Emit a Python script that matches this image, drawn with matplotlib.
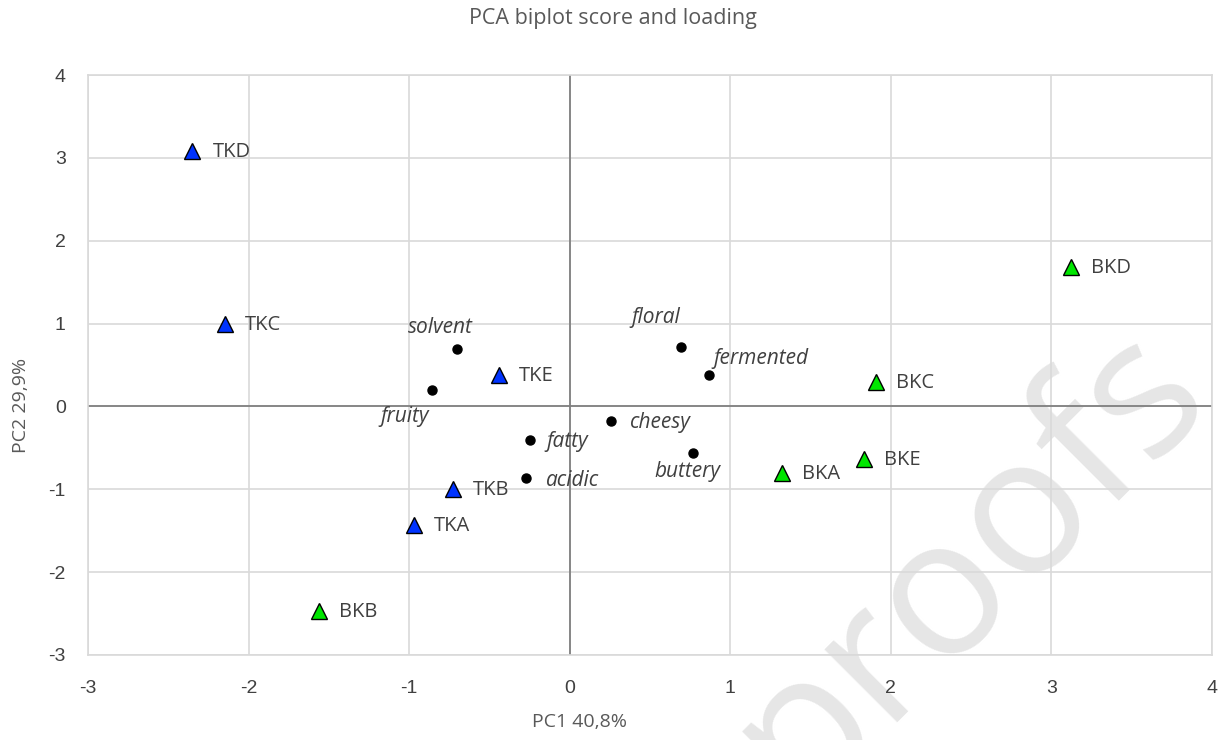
import matplotlib.pyplot as plt

plt.rcParams['font.family'] = 'Liberation Sans'
plt.rcParams['axes.unicode_minus'] = False

# scores
tk_names = ['TKA', 'TKB', 'TKC', 'TKD', 'TKE']
tk_pc1 = [-0.97, -0.73, -2.15, -2.35, -0.44]
tk_pc2 = [-1.43, -1.00, 0.99, 3.08, 0.38]

bk_names = ['BKA', 'BKB', 'BKC', 'BKD', 'BKE']
bk_pc1 = [1.32, -1.56, 1.91, 3.12, 1.83]
bk_pc2 = [-0.80, -2.47, 0.29, 1.68, -0.64]

# loadings
ld_names = ['solvent', 'fruity', 'floral', 'fermented', 'cheesy', 'fatty', 'buttery', 'acidic']
ld_pc1 = [-0.70, -0.86, 0.69, 0.87, 0.26, -0.25, 0.77, -0.27]
ld_pc2 = [0.69, 0.20, 0.72, 0.38, -0.17, -0.41, -0.56, -0.86]

# label offsets (pixels) and alignment for loading labels
ld_off = [(-17, 22, 'center'), (-27, -27, 'center'), (-25, 29, 'center'), (4, 16, 'left'),
          (18, -2, 'left'), (17, -1, 'left'), (-6, -19, 'center'), (20, -3, 'left')]

fig = plt.figure(figsize=(12.26, 7.40), dpi=100)
ax = fig.add_axes([0.0718, 0.1149, 0.9168, 0.7837])
ax.patch.set_alpha(0)

ax.set_xlim(-3, 4)
ax.set_ylim(-3, 4)
ax.set_xticks(range(-3, 5))
ax.set_yticks(range(-3, 5))
ax.grid(True, color='#d9d9d9', linewidth=1.2, zorder=0)
ax.set_axisbelow(True)
for s in ax.spines.values():
    s.set_color('#d9d9d9')
    s.set_linewidth(1.2)
ax.axhline(0, color='#808080', linewidth=1.3, zorder=1)
ax.axvline(0, color='#808080', linewidth=1.3, zorder=1)
ax.tick_params(axis='x', length=0, pad=18, labelsize=14, labelcolor='#404040')
ax.tick_params(axis='y', length=0, pad=16, labelsize=14, labelcolor='#404040')

ax.plot(tk_pc1, tk_pc2, '^', ms=11.5, color='#0033ff', mec='black', mew=1, ls='none', zorder=3)
ax.plot(bk_pc1, bk_pc2, '^', ms=11.5, color='#00e600', mec='black', mew=1, ls='none', zorder=3)
ax.plot(ld_pc1, ld_pc2, 'o', ms=6.5, color='black', ls='none', zorder=3)

for n, x, y in zip(tk_names + bk_names, tk_pc1 + bk_pc1, tk_pc2 + bk_pc2):
    ax.annotate(n, (x, y), xytext=(20, -1), textcoords='offset pixels', va='center', ha='left',
                fontsize=14.5, family='Open Sans', color='#404040')

for n, x, y, (dx, dy, ha) in zip(ld_names, ld_pc1, ld_pc2, ld_off):
    ax.annotate(n, (x, y), xytext=(dx, dy), textcoords='offset pixels', va='center', ha=ha,
                fontsize=15, family='Open Sans', style='italic', color='#404040')

fig.text(0.5, 0.975, 'PCA biplot score and loading', ha='center', va='center',
         fontsize=15.5, family='Open Sans', color='#595959')
ax.set_xlabel('PC1 40,8%', fontsize=14, family='Open Sans', color='#595959')
ax.xaxis.set_label_coords(0.437, -0.1)
ax.set_ylabel('PC2 29,9%', fontsize=14, family='Open Sans', color='#595959')
ax.yaxis.set_label_coords(-0.052, 0.43)

# watermark
fig.text(0.79, 0.24, 'proofs', rotation=45, ha='center', va='center', fontsize=138,
         family='Open Sans', color='#e6e6e6', zorder=-1)

plt.savefig('out.png')
